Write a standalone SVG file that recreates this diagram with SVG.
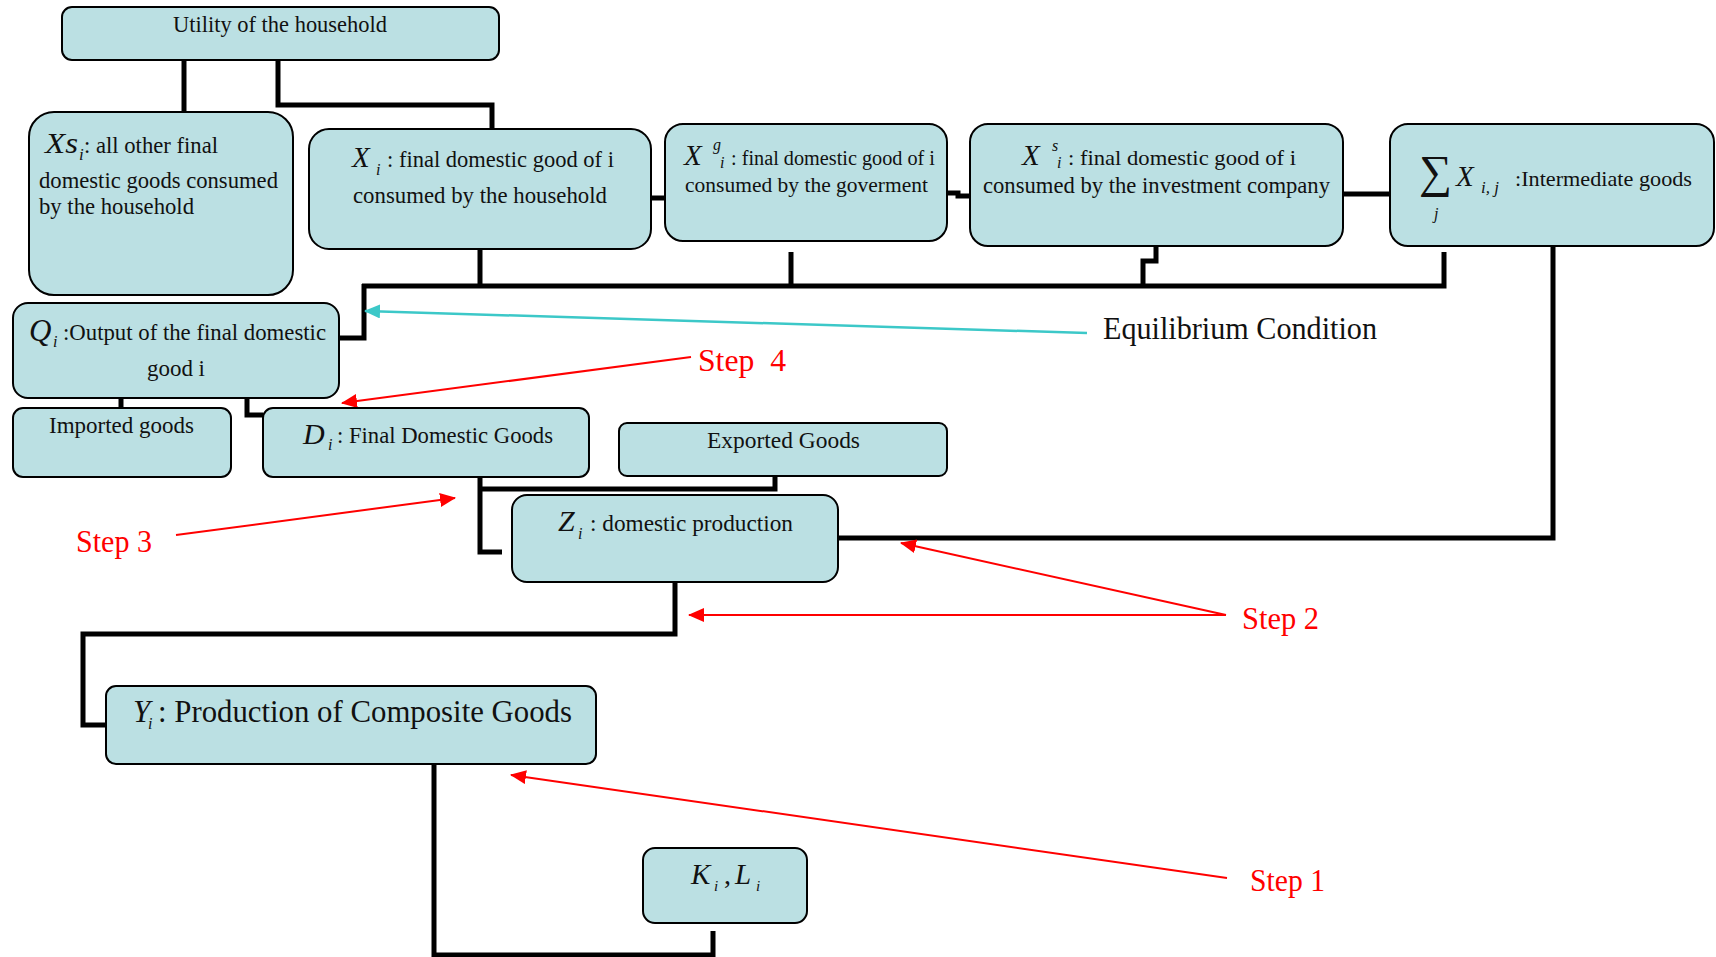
<svg xmlns="http://www.w3.org/2000/svg" width="1716" height="957" viewBox="0 0 1716 957">
<defs>
<style>
.box{fill:#BBE0E3;stroke:#000;stroke-width:2}
.t{font-family:"Liberation Serif","Times New Roman",serif;fill:#111}
.it{font-family:"Liberation Serif","Times New Roman",serif;font-style:italic;fill:#111}
.con{fill:none;stroke:#000;stroke-width:5;stroke-linejoin:miter;stroke-linecap:butt}
.red{fill:none;stroke:#FF0000;stroke-width:2}
.cyan{fill:none;stroke:#3CC8C8;stroke-width:2.5}
.step{font-family:"Liberation Serif","Times New Roman",serif;fill:#FF0000;font-size:32px}
</style>
<marker id="ar" markerUnits="userSpaceOnUse" markerWidth="16" markerHeight="14" refX="15" refY="7" orient="auto"><path d="M0,0 L16,7 L0,14 z" fill="#FF0000"/></marker>
<marker id="ac" markerUnits="userSpaceOnUse" markerWidth="16" markerHeight="14" refX="15" refY="7" orient="auto"><path d="M0,0 L16,7 L0,14 z" fill="#3CC8C8"/></marker>
</defs>
<rect width="1716" height="957" fill="#fff"/>

<g id="connectors">
<path class="con" d="M184 60 V112"/>
<path class="con" d="M278 60 V105 H492 V129"/>
<path class="con" d="M651 198 H665"/>
<path class="con" d="M947 193 H958 V196 H970"/>
<path class="con" d="M1343 194 H1390"/>
<path class="con" d="M362 286 H1444 V252"/>
<path class="con" d="M480 249 V286"/>
<path class="con" d="M791 252 V286"/>
<path class="con" d="M1156 246 V261 H1143 V286"/>
<path class="con" d="M339 338 H364 V284"/>
<path class="con" d="M121 398 V408"/>
<path class="con" d="M247 398 V415 H263"/>
<path class="con" d="M480 472 V552 H502"/>
<path class="con" d="M775 476 V489 H480"/>
<path class="con" d="M838 538 H1553 V246"/>
<path class="con" d="M675 582 V634 H83 V725 H107"/>
<path class="con" d="M434 764 V955 H713 V931"/>
</g>

<g id="annotations">
<line class="cyan" x1="1087" y1="333" x2="365" y2="311" marker-end="url(#ac)"/>
<text class="t" x="1103" y="339" font-size="31" textLength="274" lengthAdjust="spacingAndGlyphs">Equilibrium Condition</text>
<line class="red" x1="691" y1="357" x2="342" y2="403" marker-end="url(#ar)"/>
<text class="step" x="698" y="371" xml:space="preserve" textLength="88" lengthAdjust="spacingAndGlyphs">Step  4</text>
<line class="red" x1="176" y1="535" x2="455" y2="498" marker-end="url(#ar)"/>
<text class="step" x="76" y="552" textLength="76" lengthAdjust="spacingAndGlyphs">Step 3</text>
<line class="red" x1="1226" y1="615" x2="901" y2="543" marker-end="url(#ar)"/>
<line class="red" x1="1226" y1="615" x2="689" y2="615" marker-end="url(#ar)"/>
<text class="step" x="1242" y="629" textLength="77" lengthAdjust="spacingAndGlyphs">Step 2</text>
<line class="red" x1="1227" y1="878" x2="511" y2="775" marker-end="url(#ar)"/>
<text class="step" x="1250" y="891" textLength="75" lengthAdjust="spacingAndGlyphs">Step 1</text>
</g>

<g id="utility">
<rect class="box" x="62" y="7" width="437" height="53" rx="10"/>
<text class="t" x="173" y="32" font-size="23" textLength="214" lengthAdjust="spacingAndGlyphs">Utility of the household</text>
</g>

<g id="xs">
<rect class="box" x="29" y="112" width="264" height="183" rx="25"/>
<text class="it" x="45" y="153" font-size="30" textLength="33" lengthAdjust="spacingAndGlyphs">Xs</text>
<text class="it" x="79" y="160" font-size="17">i</text>
<text class="t" x="84" y="153" font-size="23" textLength="134" lengthAdjust="spacingAndGlyphs">: all other final</text>
<text class="t" x="39" y="188" font-size="23" textLength="239" lengthAdjust="spacingAndGlyphs">domestic goods consumed</text>
<text class="t" x="39" y="214" font-size="23" textLength="155" lengthAdjust="spacingAndGlyphs">by the household</text>
</g>

<g id="xi">
<rect class="box" x="309" y="129" width="342" height="120" rx="20"/>
<text class="it" x="352" y="167" font-size="29">X</text>
<text class="it" x="376" y="175" font-size="16">i</text>
<text class="t" x="387" y="167" font-size="23" textLength="227" lengthAdjust="spacingAndGlyphs">: final domestic good of i</text>
<text class="t" x="353" y="203" font-size="23" textLength="254" lengthAdjust="spacingAndGlyphs">consumed by the household</text>
</g>

<g id="xg">
<rect class="box" x="665" y="124" width="282" height="117" rx="18"/>
<text class="it" x="684" y="165" font-size="29">X</text>
<text class="it" x="713" y="150" font-size="16">g</text>
<text class="it" x="720" y="168" font-size="16">i</text>
<text class="t" x="731" y="165" font-size="20" textLength="204" lengthAdjust="spacingAndGlyphs">: final domestic good of i</text>
<text class="t" x="685" y="192" font-size="21" textLength="243" lengthAdjust="spacingAndGlyphs">consumed by the goverment</text>
</g>

<g id="xsi">
<rect class="box" x="970" y="124" width="373" height="122" rx="18"/>
<text class="it" x="1022" y="165" font-size="29">X</text>
<text class="it" x="1052" y="151" font-size="16">s</text>
<text class="it" x="1057" y="168" font-size="16">i</text>
<text class="t" x="1068" y="165" font-size="22" textLength="228" lengthAdjust="spacingAndGlyphs">: final domestic good of i</text>
<text class="t" x="983" y="193" font-size="22.5" textLength="347" lengthAdjust="spacingAndGlyphs">consumed by the investment company</text>
</g>

<g id="intermediate">
<rect class="box" x="1390" y="124" width="324" height="122" rx="18"/>
<text class="t" x="1419" y="187" font-size="46" textLength="33" lengthAdjust="spacingAndGlyphs">∑</text>
<text class="it" x="1434" y="219" font-size="16">j</text>
<text class="it" x="1456" y="186" font-size="29">X</text>
<text class="it" x="1481" y="193" font-size="17">i, j</text>
<text class="t" x="1515" y="186" font-size="21" textLength="177" lengthAdjust="spacingAndGlyphs">:Intermediate goods</text>
</g>

<g id="q">
<rect class="box" x="13" y="303" width="326" height="95" rx="15"/>
<text class="it" x="29" y="341" font-size="31">Q</text>
<text class="it" x="53" y="347" font-size="16">i</text>
<text class="t" x="63" y="340" font-size="23" textLength="263" lengthAdjust="spacingAndGlyphs">:Output of the final domestic</text>
<text class="t" x="147" y="376" font-size="23" textLength="58" lengthAdjust="spacingAndGlyphs">good i</text>
</g>

<g id="imported">
<rect class="box" x="13" y="408" width="218" height="69" rx="10"/>
<text class="t" x="49" y="433" font-size="23" textLength="145" lengthAdjust="spacingAndGlyphs">Imported goods</text>
</g>

<g id="d">
<rect class="box" x="263" y="408" width="326" height="69" rx="10"/>
<text class="it" x="303" y="444" font-size="30">D</text>
<text class="it" x="328" y="450" font-size="16">i</text>
<text class="t" x="337" y="443" font-size="23" textLength="216" lengthAdjust="spacingAndGlyphs">: Final Domestic Goods</text>
</g>

<g id="exported">
<rect class="box" x="619" y="423" width="328" height="53" rx="8"/>
<text class="t" x="707" y="448" font-size="23.5" textLength="153" lengthAdjust="spacingAndGlyphs">Exported Goods</text>
</g>

<g id="z">
<rect class="box" x="512" y="495" width="326" height="87" rx="15"/>
<text class="it" x="558" y="531" font-size="30">Z</text>
<text class="it" x="578" y="539" font-size="16">i</text>
<text class="t" x="590" y="531" font-size="23" textLength="203" lengthAdjust="spacingAndGlyphs">: domestic production</text>
</g>

<g id="y">
<rect class="box" x="106" y="686" width="490" height="78" rx="10"/>
<text class="it" x="133" y="722" font-size="31">Y</text>
<text class="it" x="148" y="729" font-size="16">i</text>
<text class="t" x="158" y="722" font-size="31" textLength="414" lengthAdjust="spacingAndGlyphs">: Production of Composite Goods</text>
</g>

<g id="kl">
<rect class="box" x="643" y="848" width="164" height="75" rx="12"/>
<text class="it" x="691" y="884" font-size="29">K</text>
<text class="it" x="714" y="891" font-size="15">i</text>
<text class="t" x="724" y="884" font-size="28">,</text>
<text class="it" x="735" y="884" font-size="29">L</text>
<text class="it" x="756" y="891" font-size="15">i</text>
</g>
</svg>
